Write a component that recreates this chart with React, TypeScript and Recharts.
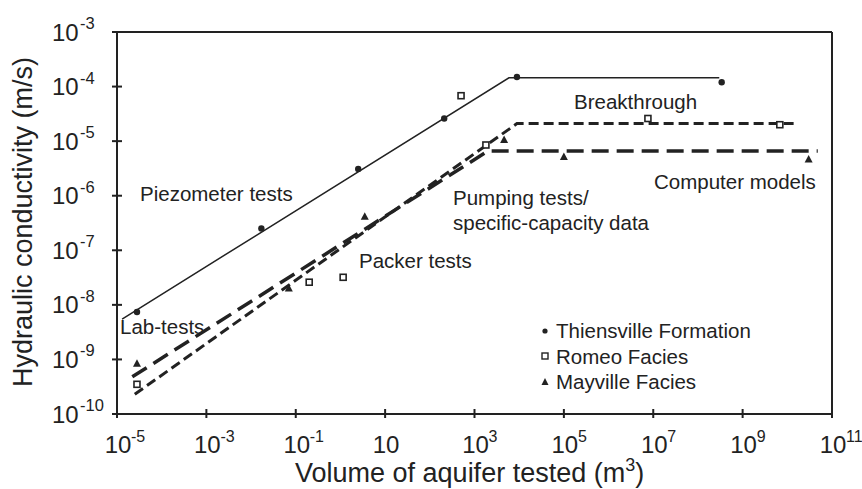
import React from "react";
import { ScatterChart, Scatter, XAxis, YAxis, ReferenceLine, Legend } from "recharts";

const FONT = '"Liberation Sans", Arial, Helvetica, sans-serif';
const INK = "#222";

// axis ticks (powers of ten) and their exponent labels
const X_TICKS = [1e-5, 1e-3, 1e-1, 10, 1e3, 1e5, 1e7, 1e9, 1e11];
const X_EXPONENTS = ["-5", "-3", "-1", "", "3", "5", "7", "9", "11"];
const Y_TICKS = [1e-10, 1e-9, 1e-8, 1e-7, 1e-6, 1e-5, 1e-4, 1e-3];
const Y_EXPONENTS = ["-10", "-9", "-8", "-7", "-6", "-5", "-4", "-3"];

// measured points
const thiensville = [
  { x: 2.8e-5, y: 7.4e-9 },
  { x: 0.017, y: 2.5e-7 },
  { x: 2.5, y: 3.1e-6 },
  { x: 210, y: 2.6e-5 },
  { x: 8900, y: 1.5e-4 },
  { x: 3.4e8, y: 1.2e-4 },
];
const romeo = [
  { x: 2.8e-5, y: 3.5e-10 },
  { x: 0.2, y: 2.6e-8 },
  { x: 1.15, y: 3.2e-8 },
  { x: 500, y: 6.8e-5 },
  { x: 1800, y: 8.5e-6 },
  { x: 7.6e6, y: 2.6e-5 },
  { x: 6.8e9, y: 2.0e-5 },
];
const mayville = [
  { x: 2.8e-5, y: 8.3e-10 },
  { x: 0.07, y: 2.0e-8 },
  { x: 3.5, y: 4.1e-7 },
  { x: 4600, y: 1.05e-5 },
  { x: 1e5, y: 5.1e-6 },
  { x: 3.0e10, y: 4.6e-6 },
];

// trend lines
const thiensvilleTrend = [
  { x: 1.3e-5, y: 5.5e-9 },
  { x: 5900, y: 1.45e-4 },
  { x: 3.0e8, y: 1.45e-4 },
];
const romeoTrend = [
  { x: 2.5e-5, y: 2.3e-10 },
  { x: 8900, y: 2.1e-5 },
  { x: 1.7e10, y: 2.1e-5 },
];
const mayvilleTrend = [
  { x: 2.2e-5, y: 4.8e-10 },
  { x: 2000, y: 6.6e-6 },
  { x: 4.8e10, y: 6.6e-6 },
];

const LEGEND_ITEMS = ["Thiensville Formation", "Romeo Facies", "Mayville Facies"];

const Nothing = () => <g />;

const Dot = (p: any) => <circle cx={p.cx} cy={p.cy} r={3.2} fill={INK} />;
const Square = (p: any) => (
  <rect x={p.cx - 3} y={p.cy - 3} width={6} height={6} fill="#fff" stroke={INK} strokeWidth={1.6} />
);
const Triangle = (p: any) => (
  <path d={`M${p.cx},${p.cy - 4.5}L${p.cx + 4},${p.cy + 3}L${p.cx - 4},${p.cy + 3}Z`} fill={INK} />
);

function XTick({ x, y, payload }: any) {
  const exp = X_EXPONENTS[X_TICKS.indexOf(payload.value)];
  return (
    <g fontFamily={FONT} fill={INK}>
      <line x1={x} x2={x} y1={y - 5} y2={y + 4} stroke={INK} strokeWidth={2} />
      <text x={x + 1} y={y + 39} textAnchor="middle" fontSize={24}>10</text>
      {exp && <text x={x + 14} y={y + 28} fontSize={16}>{exp}</text>}
    </g>
  );
}

function YTick({ x, y, payload }: any) {
  const exp = Y_EXPONENTS[Y_TICKS.indexOf(payload.value)];
  return (
    <g fontFamily={FONT} fill={INK}>
      <line x1={x - 5} x2={x + 5} y1={y} y2={y} stroke={INK} strokeWidth={2} />
      <text x={x - 65} y={y + 8.5} fontSize={24}>10</text>
      <text x={x - 37} y={y - 3} fontSize={16.5}>{exp}</text>
    </g>
  );
}

const MARKERS = [
  (cx: number, cy: number) => <circle cx={cx} cy={cy} r={2.6} fill={INK} />,
  (cx: number, cy: number) => (
    <rect x={cx - 3} y={cy - 3} width={6} height={6} fill="#fff" stroke={INK} strokeWidth={1.4} />
  ),
  (cx: number, cy: number) => <path d={`M${cx},${cy - 4}L${cx + 3.5},${cy + 3}L${cx - 3.5},${cy + 3}Z`} fill={INK} />,
];

function LegendBox() {
  return (
    <div style={{ fontFamily: FONT, fontSize: 20.5, color: INK, lineHeight: "25.5px" }}>
      {LEGEND_ITEMS.map((name, i) => (
        <div key={name} style={{ display: "flex", alignItems: "center" }}>
          <svg width={14} height={14} style={{ marginRight: 4 }}>
            {MARKERS[i](7, 7)}
          </svg>
          {name}
        </div>
      ))}
    </div>
  );
}

export default function App() {
  return (
    <div style={{ position: "absolute", left: 0, top: 0, width: 862, height: 489, background: "#fff" }}>
      <ScatterChart width={862} height={489} margin={{ top: 32, right: 30, bottom: 0, left: 0 }}>
        <XAxis
          type="number"
          dataKey="x"
          scale="log"
          domain={[1e-5, 1e11]}
          ticks={X_TICKS}
          interval={0}
          allowDataOverflow
          height={75}
          tickSize={0}
          tickMargin={0}
          tickLine={false}
          axisLine={{ stroke: INK, strokeWidth: 2 }}
          tick={<XTick />}
        />
        <YAxis
          type="number"
          dataKey="y"
          scale="log"
          domain={[1e-10, 1e-3]}
          ticks={Y_TICKS}
          interval={0}
          allowDataOverflow
          width={117}
          tickSize={0}
          tickMargin={0}
          tickLine={false}
          axisLine={{ stroke: INK, strokeWidth: 2 }}
          tick={<YTick />}
        />
        <ReferenceLine y={1e-3} stroke={INK} strokeWidth={2} />
        <ReferenceLine x={1e11} stroke={INK} strokeWidth={2} />

        <Scatter data={thiensvilleTrend} line={{ stroke: INK, strokeWidth: 1.5 }} shape={Nothing} legendType="none" isAnimationActive={false} />
        <Scatter data={romeoTrend} line={{ stroke: INK, strokeWidth: 3, strokeDasharray: "10 5" }} shape={Nothing} legendType="none" isAnimationActive={false} />
        <Scatter data={mayvilleTrend} line={{ stroke: INK, strokeWidth: 3.5, strokeDasharray: "17 8" }} shape={Nothing} legendType="none" isAnimationActive={false} />

        <Scatter name="Thiensville Formation" data={thiensville} shape={Dot} isAnimationActive={false} />
        <Scatter name="Romeo Facies" data={romeo} shape={Square} isAnimationActive={false} />
        <Scatter name="Mayville Facies" data={mayville} shape={Triangle} isAnimationActive={false} />

        <Legend
          layout="vertical"
          align="center"
          verticalAlign="middle"
          content={<LegendBox />}
          wrapperStyle={{ left: 538, top: 318, width: 260 }}
        />
      </ScatterChart>

      <svg width={862} height={489} style={{ position: "absolute", left: 0, top: 0, pointerEvents: "none" }}>
        <g fontFamily={FONT} fill={INK}>
          <text transform="translate(32,222) rotate(-90)" textAnchor="middle" fontSize={27}>
            Hydraulic conductivity (m/s)
          </text>
          <text x={295} y={482} fontSize={27}>
            Volume of aquifer tested (m<tspan dy={-11} fontSize={18}>3</tspan><tspan dy={11}>)</tspan>
          </text>
          <g fontSize={20.5}>
            <text x={140} y={201}>Piezometer tests</text>
            <text x={120} y={334}>Lab-tests</text>
            <text x={359} y={268}>Packer tests</text>
            <text x={453} y={205}>Pumping tests/</text>
            <text x={453} y={230}>specific-capacity data</text>
            <text x={574} y={109}>Breakthrough</text>
            <text x={654} y={189}>Computer models</text>
          </g>
        </g>
      </svg>
    </div>
  );
}
